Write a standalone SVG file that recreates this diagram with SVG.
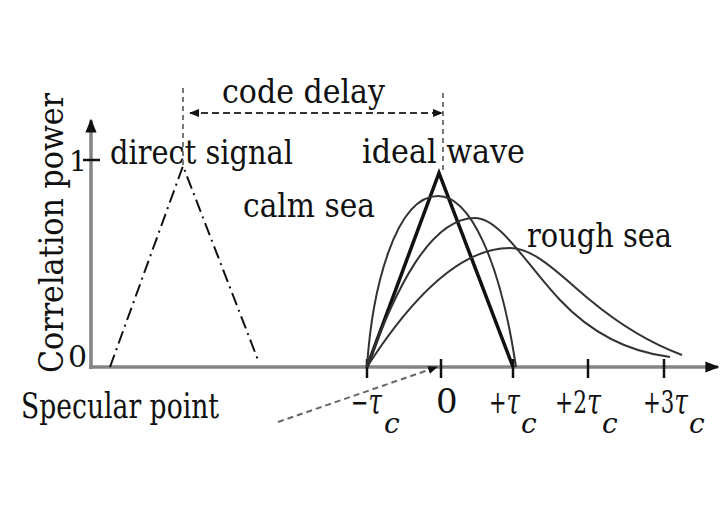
<svg xmlns="http://www.w3.org/2000/svg" width="724" height="524" viewBox="0 0 724 524" font-family="'DejaVu Serif', 'Liberation Serif', serif">
<style>
text{fill:#111;}
.lbl{font-size:34px;}
.tl{font-size:31px;}
.tau{font-style:italic;font-size:36px;}
.sub{font-style:italic;font-size:28px;}
.axis{stroke:#858585;stroke-width:3.5;fill:none;}
.tick{stroke:#111;stroke-width:2.5;}
.curve{stroke:#333;stroke-width:2;fill:none;}
.guide{stroke:#777;stroke-width:2;stroke-dasharray:5 4;fill:none;}
</style>
<defs>
<marker id="ah" viewBox="0 0 10 10" refX="9" refY="5" markerWidth="10" markerHeight="10" markerUnits="userSpaceOnUse" orient="auto-start-reverse">
<path d="M0,1 L10,5 L0,9 Z" fill="#111"/>
</marker>
<marker id="axh" viewBox="0 0 10 10" refX="9" refY="5" markerWidth="14" markerHeight="14" markerUnits="userSpaceOnUse" orient="auto">
<path d="M0,1 L10,5 L0,9 Z" fill="#111"/>
</marker>
</defs>
<rect width="724" height="524" fill="#fff"/>

<g id="axes">
<line class="axis" x1="91" y1="369" x2="91" y2="120" marker-end="url(#axh)"/>
<line class="axis" x1="89" y1="367" x2="718" y2="367" marker-end="url(#axh)"/>
<line class="tick" x1="83" y1="160" x2="100" y2="160"/>
<line class="tick" x1="367" y1="359" x2="367" y2="378"/>
<line class="tick" x1="441" y1="359" x2="441" y2="378"/>
<line class="tick" x1="513" y1="359" x2="513" y2="378"/>
<line class="tick" x1="588" y1="359" x2="588" y2="378"/>
<line class="tick" x1="664" y1="359" x2="664" y2="378"/>
<text x="63" y="373" class="lbl" transform="rotate(-90 63 373)" textLength="280" lengthAdjust="spacingAndGlyphs">Correlation power</text>
<text x="68" y="367" font-size="30">0</text>
<text x="69" y="171" font-size="28">1</text>
</g>

<g id="direct-signal">
<polyline points="110,367 183,166 258,360" fill="none" stroke="#111" stroke-width="2" stroke-dasharray="13 5 2 5"/>
<text x="110" y="164" class="lbl" textLength="183" lengthAdjust="spacingAndGlyphs">direct signal</text>
</g>

<g id="ideal-wave">
<polyline points="367,367 439,173 513,367" fill="none" stroke="#111" stroke-width="3.5" stroke-linejoin="miter"/>
<text x="362" y="163" class="lbl" textLength="163" lengthAdjust="spacingAndGlyphs">ideal wave</text>
</g>

<g id="calm-sea">
<path class="curve" d="M367,367 C372,290 395,196 438,196 C470,196 500,260 516,367"/>
<path class="curve" d="M367,367 C395,290 430,218 475,218 C500,218 527,265 560,300 C593,335 630,352 670,357"/>
<text x="243" y="217" class="lbl" textLength="132" lengthAdjust="spacingAndGlyphs">calm sea</text>
</g>

<g id="rough-sea">
<path class="curve" d="M367,367 C410,300 460,248 510,248 C535,248 560,275 590,300 C620,325 650,343 682,355"/>
<text x="527" y="247" class="lbl" textLength="145" lengthAdjust="spacingAndGlyphs">rough sea</text>
</g>

<g id="connectors">
<line class="guide" x1="183" y1="88" x2="183" y2="166"/>
<line class="guide" x1="443" y1="93" x2="443" y2="172"/>
<line x1="190" y1="113" x2="442" y2="113" stroke="#333" stroke-width="2" stroke-dasharray="7 4" marker-start="url(#ah)" marker-end="url(#ah)"/>
<line x1="278" y1="422" x2="437" y2="367" stroke="#666" stroke-width="2" stroke-dasharray="6 4" marker-end="url(#ah)"/>
</g>

<g id="code-delay">
<text x="222" y="103" class="lbl" textLength="163" lengthAdjust="spacingAndGlyphs">code delay</text>
</g>

<g id="x-labels">
<text x="21" y="418" font-size="36" textLength="198" lengthAdjust="spacingAndGlyphs">Specular point</text>
<text x="351" y="413" class="tl" textLength="31" lengthAdjust="spacingAndGlyphs">−<tspan class="tau">τ</tspan></text>
<text x="384" y="433" class="sub">c</text>
<text x="436" y="413" class="lbl">0</text>
<text x="489" y="413" class="tl" textLength="31" lengthAdjust="spacingAndGlyphs">+<tspan class="tau">τ</tspan></text>
<text x="521" y="433" class="sub">c</text>
<text x="555" y="413" class="tl" textLength="46" lengthAdjust="spacingAndGlyphs">+2<tspan class="tau">τ</tspan></text>
<text x="602" y="433" class="sub">c</text>
<text x="643" y="413" class="tl" textLength="45" lengthAdjust="spacingAndGlyphs">+3<tspan class="tau">τ</tspan></text>
<text x="689" y="433" class="sub">c</text>
</g>
</svg>
